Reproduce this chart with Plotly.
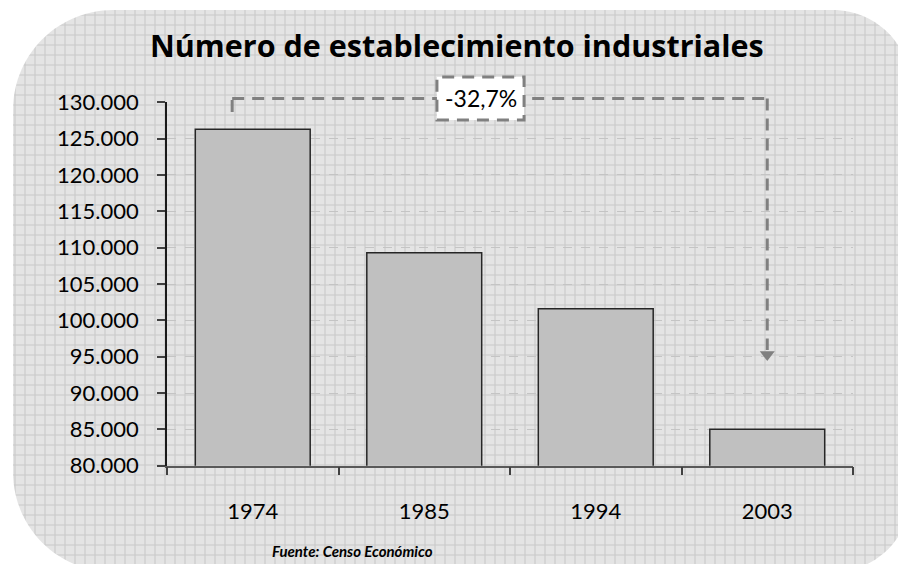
import math
import plotly.graph_objects as go

# ---------------- data ----------------
years = ["1974", "1985", "1994", "2003"]
establishments = [126300, 109300, 101600, 85000]
y_ticks = [80000, 85000, 90000, 95000, 100000, 105000, 110000, 115000, 120000, 125000, 130000]
title_text = "Número de establecimiento industriales"
source_text = "Fuente: Censo Económico"

pct = (establishments[-1] / establishments[0] - 1) * 100
pct_text = f"{pct:.1f}%".replace(".", ",")

# ---------------- geometry helpers (reference pixels -> paper) ----------------
FW, FH = 898, 564
def pxx(p):
    return p / FW
def pxy(p):
    return 1 - p / FH

PLOT_L, PLOT_R = 167, 853
PLOT_T, PLOT_B = 102.3, 465.7

def rounded_rect(l, t, r, b, rtl, rtr, rbr, rbl, n=30):
    xs, ys = [], []
    def arc(cx, cy, rad, a0, a1):
        for i in range(n + 1):
            a = math.radians(a0 + (a1 - a0) * i / n)
            xs.append(cx + rad * math.cos(a))
            ys.append(cy + rad * math.sin(a))
    arc(l + rtl, t + rtl, rtl, 180, 270)
    arc(r - rtr, t + rtr, rtr, 270, 360)
    arc(r - rbr, b - rbr, rbr, 0, 90)
    arc(l + rbl, b - rbl, rbl, 90, 180)
    xs.append(xs[0]); ys.append(ys[0])
    return xs, ys

bx, by = rounded_rect(13, 10, 911, 572, 100, 78, 78, 100)

fig = go.Figure()

# background panel with grid texture
fig.add_trace(go.Scatter(
    x=bx, y=by, xaxis="x", yaxis="y", mode="lines", fill="toself",
    line=dict(width=0, color="rgba(0,0,0,0)", simplify=False),
    fillcolor="#e2e2e2",
    fillpattern=dict(shape="+", size=10, solidity=0.2,
                     fgcolor="#c9c9c9", bgcolor="#e4e4e4", fgopacity=1),
    hoverinfo="skip", showlegend=False,
))

# bars
fig.add_trace(go.Bar(
    x=years, y=establishments, xaxis="x2", yaxis="y2",
    marker=dict(color="#c0c0c0", line=dict(color="#262626", width=1.5)),
    showlegend=False, hoverinfo="skip",
))

# arrow head at 2003
arrow_tip_val = 95300
fig.add_trace(go.Scatter(
    x=[years[-1]], y=[arrow_tip_val], xaxis="x2", yaxis="y2", mode="markers",
    marker=dict(symbol="triangle-down", size=13, color="#808080"),
    cliponaxis=False, showlegend=False, hoverinfo="skip",
))

dash_line = dict(color="#808080", width=3, dash="12px,8px")
x_left = -0.12
x_right = 3
y_top = pxy(98.5)
shapes = [
    dict(type="line", xref="x2", yref="paper", x0=x_left, x1=x_left, y0=pxy(112), y1=y_top, line=dash_line),
    dict(type="line", xref="x2", yref="paper", x0=x_left, x1=x_right, y0=y_top, y1=y_top, line=dash_line),
    dict(type="line", xref="x2", yref="paper", x0=x_right, x1=x_right, y0=y_top, y1=pxy(350), line=dash_line),
    dict(type="rect", xref="x2", yref="paper", x0=1.074, x1=1.582, y0=pxy(120), y1=pxy(77),
         fillcolor="white", line=dash_line),
]

annotations = [
    dict(text=f"<b>{title_text}</b>", xref="paper", yref="paper", x=pxx(457), y=pxy(45),
         xanchor="center", yanchor="middle", showarrow=False,
         font=dict(family="Open Sans", size=30.5, color="#000000")),
    dict(text=pct_text, xref="x2", yref="paper", x=1.328, y=pxy(98.5),
         xanchor="center", yanchor="middle", showarrow=False,
         font=dict(family="Lato", size=23, color="#000000")),
    dict(text=f"<b><i>{source_text}</i></b>", xref="paper", yref="paper", x=pxx(352), y=pxy(551),
         xanchor="center", yanchor="middle", showarrow=False,
         font=dict(family="Lato", size=15, color="#000000")),
]

fig.update_layout(
    width=FW, height=FH,
    margin=dict(l=0, r=0, t=0, b=0, pad=0, autoexpand=False),
    paper_bgcolor="white",
    plot_bgcolor="rgba(0,0,0,0)",
    separators=",.",
    bargap=0.33,
    showlegend=False,
    font=dict(family="Lato", size=22, color="#000000"),
    xaxis=dict(domain=[0, 1], range=[0, FW], visible=False, fixedrange=True),
    yaxis=dict(domain=[0, 1], range=[FH, 0], visible=False, fixedrange=True),
    xaxis2=dict(
        domain=[pxx(PLOT_L), pxx(PLOT_R)], anchor="y2", type="category",
        range=[-0.5, 3.5], showline=True, linecolor="#595959", linewidth=1.5,
        ticks="outside", tickson="boundaries", ticklen=8, tickcolor="#404040", tickwidth=1.5,
        ticklabelstandoff=25, showgrid=False, zeroline=False, automargin=False,
        tickfont=dict(family="Lato", size=22, color="#000000"),
    ),
    yaxis2=dict(
        domain=[pxy(PLOT_B), pxy(PLOT_T)], anchor="x2",
        range=[80000, 130000], tickvals=y_ticks, tickformat=",.0f",
        showline=True, linecolor="#1a1a1a", linewidth=1.5,
        ticks="outside", ticklen=8, tickcolor="#404040", tickwidth=1.5,
        ticklabelstandoff=14, automargin=False,
        showgrid=True, gridcolor="#c4c4c4", gridwidth=1, griddash="dash",
        zeroline=False,
        tickfont=dict(family="Lato", size=22, color="#000000"),
    ),
    shapes=shapes,
    annotations=annotations,
)

fig.write_html(
    "out.html",
    config={"displayModeBar": False},
    post_script="document.body.style.margin='0';document.body.style.overflow='hidden';",
)
